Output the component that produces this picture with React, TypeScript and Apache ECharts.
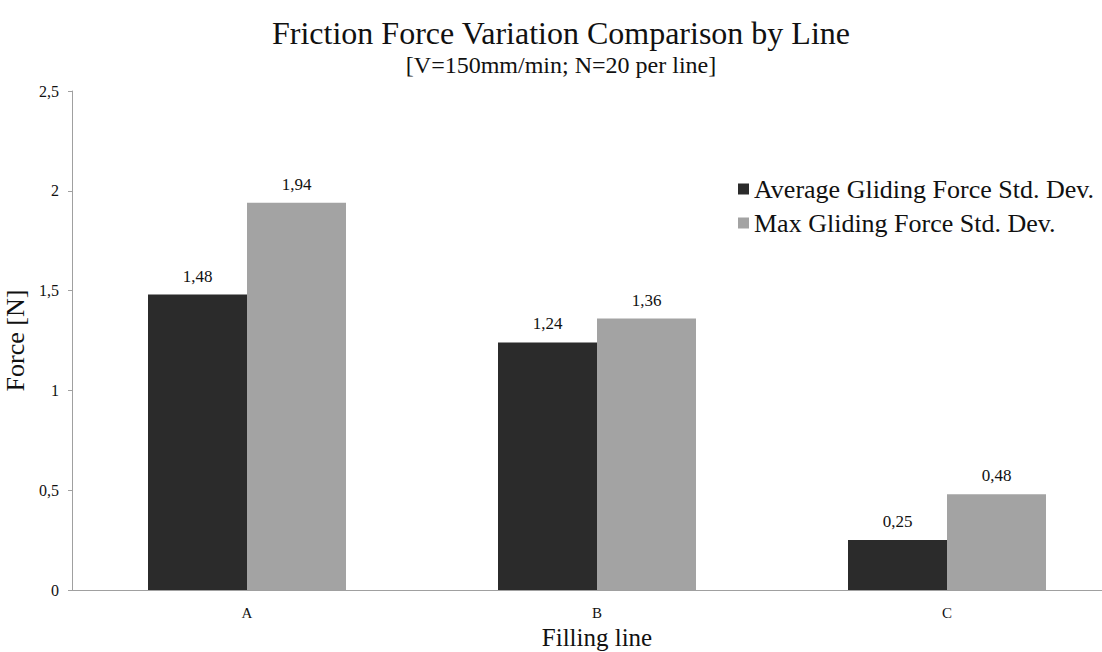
import React, { useEffect, useRef } from "react";
import * as echarts from "echarts";

const categories = ["A", "B", "C"];
const avgStdDev = [1.48, 1.24, 0.25];
const maxStdDev = [1.94, 1.36, 0.48];
const seriesNames = ["Average Gliding Force Std. Dev.", "Max Gliding Force Std. Dev."];
const titleText = "Friction Force Variation Comparison by Line";
const subtitleText = "[V=150mm/min; N=20 per line]";

const FONT = "'Liberation Serif', 'Times New Roman', serif";
const fmt = (v: number) => (Number.isInteger(v) ? String(v) : String(v).replace(".", ","));

export default function App() {
  const ref = useRef<HTMLDivElement>(null);
  useEffect(() => {
    if (!ref.current) return;
    const chart = echarts.init(ref.current, null, { renderer: "svg" });
    chart.setOption({
      animation: false,
      backgroundColor: "#ffffff",
      textStyle: { fontFamily: FONT, color: "#111" },
      title: [
        {
          text: titleText,
          left: "center",
          top: 12,
          textStyle: { fontFamily: FONT, fontSize: 32, fontWeight: "normal", color: "#111" },
        },
        {
          text: subtitleText,
          left: "center",
          top: 48,
          textStyle: { fontFamily: FONT, fontSize: 24, fontWeight: "normal", color: "#111" },
        },
      ],
      legend: {
        orient: "vertical",
        left: 733,
        top: 171,
        itemWidth: 11,
        itemHeight: 11,
        itemGap: 8,
        icon: "rect",
        textStyle: { fontFamily: FONT, fontSize: 26, color: "#111" },
        data: seriesNames,
      },
      grid: { left: 72, top: 91, width: 1050, height: 499, outerBoundsMode: "none" },
      xAxis: {
        type: "category",
        data: categories,
        name: "Filling line",
        nameLocation: "middle",
        nameGap: 34,
        nameTextStyle: { fontFamily: FONT, fontSize: 25, color: "#111" },
        axisLine: { lineStyle: { color: "#a0a0a0", width: 1 } },
        axisTick: { show: false },
        axisLabel: { fontFamily: FONT, fontSize: 15, color: "#111", margin: 15 },
      },
      yAxis: {
        type: "value",
        min: 0,
        max: 2.5,
        interval: 0.5,
        name: "Force [N]",
        nameLocation: "middle",
        nameGap: 43,
        nameTextStyle: { fontFamily: FONT, fontSize: 26, color: "#111" },
        axisLine: { show: true, lineStyle: { color: "#a0a0a0", width: 1 } },
        axisTick: { show: true, length: 4, lineStyle: { color: "#a0a0a0" } },
        splitLine: { show: false },
        axisLabel: { fontFamily: FONT, fontSize: 16, color: "#111", margin: 13, formatter: fmt },
      },
      series: [
        {
          name: seriesNames[0],
          type: "bar",
          data: avgStdDev,
          barWidth: 99,
          barGap: "0%",
          itemStyle: { color: "#2b2b2b" },
          label: {
            show: true,
            position: "top",
            distance: 10,
            fontFamily: FONT,
            fontSize: 17,
            color: "#111",
            formatter: (p: any) => fmt(p.value),
          },
        },
        {
          name: seriesNames[1],
          type: "bar",
          data: maxStdDev,
          barWidth: 99,
          barGap: "0%",
          itemStyle: { color: "#a3a3a3" },
          label: {
            show: true,
            position: "top",
            distance: 10,
            fontFamily: FONT,
            fontSize: 17,
            color: "#111",
            formatter: (p: any) => fmt(p.value),
          },
        },
      ],
    });
    return () => chart.dispose();
  }, []);
  return (
    <div
      style={{
        position: "fixed",
        left: 0,
        top: 0,
        width: 1102,
        height: 652,
        overflow: "hidden",
        background: "#fff",
      }}
    >
      <div ref={ref} style={{ width: 1122, height: 652 }} />
    </div>
  );
}
